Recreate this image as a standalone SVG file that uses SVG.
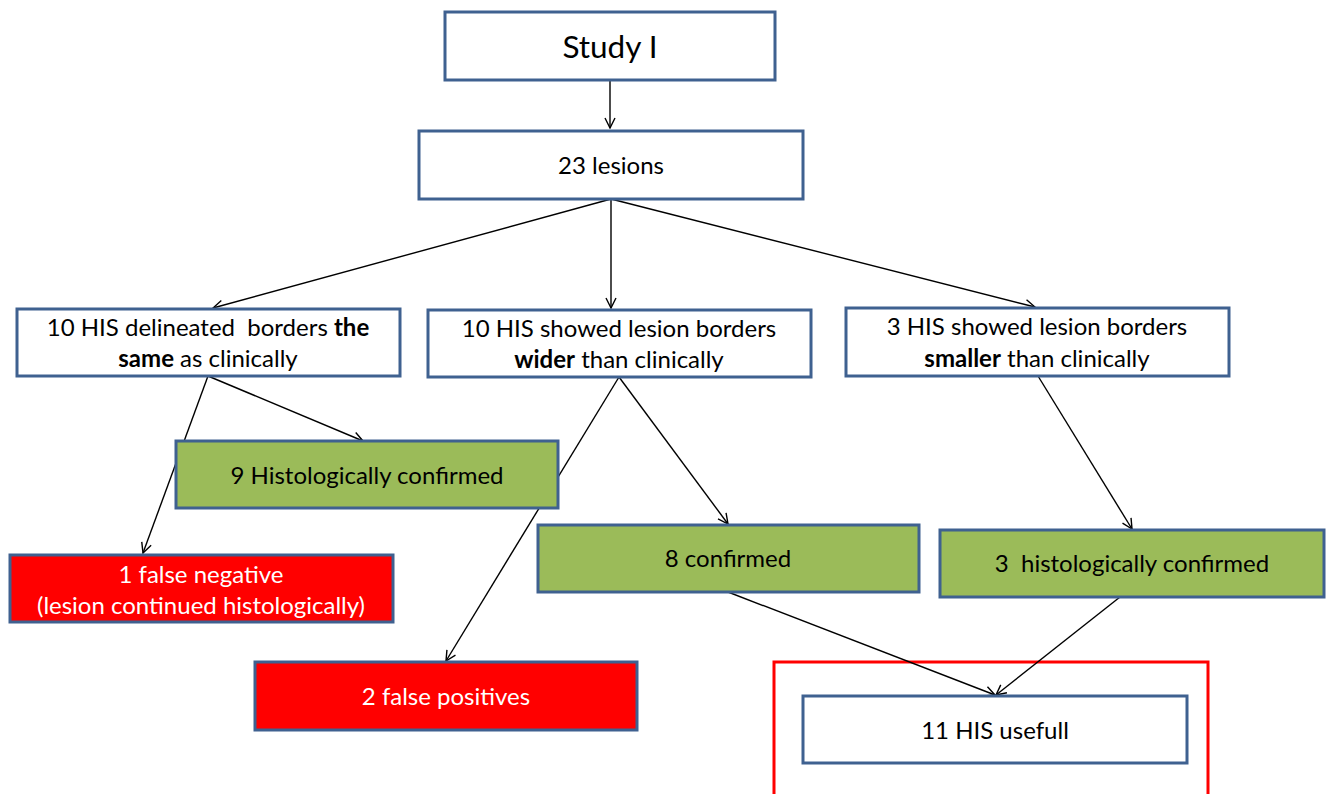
<svg xmlns="http://www.w3.org/2000/svg" width="1327" height="794" viewBox="0 0 1327 794">
<style>
.box{stroke:#3F6190;stroke-width:3}
.w{fill:#fff}
.g{fill:#9BBB59}
.r{fill:#FF0000}
text{font-family:"Lato","Open Sans",sans-serif;font-size:24px;text-anchor:middle;fill:#000}
.wt{fill:#fff}
.c line{stroke:#000;stroke-width:1.4;marker-end:url(#ah)}
</style>
<defs>
<marker id="ah" viewBox="0 0 12 12" refX="11" refY="6" markerWidth="12" markerHeight="12" markerUnits="userSpaceOnUse" orient="auto">
<path d="M1,1 L11,6 L1,11" fill="none" stroke="#000" stroke-width="1.4"/>
</marker>
</defs>
<rect x="774" y="662" width="434" height="140" fill="none" stroke="#FF0000" stroke-width="3"/>
<g class="c">
<line x1="610" y1="80" x2="610" y2="128"/>
<line x1="611" y1="199" x2="213" y2="308"/>
<line x1="611" y1="199" x2="611" y2="308"/>
<line x1="611" y1="199" x2="1035" y2="307"/>
<line x1="208" y1="376" x2="363" y2="441"/>
<line x1="208" y1="376" x2="143" y2="553"/>
<line x1="619" y1="377" x2="728" y2="524"/>
<line x1="619" y1="377" x2="446" y2="661"/>
<line x1="1038" y1="376" x2="1132" y2="529"/>
<line x1="728" y1="592" x2="995" y2="695"/>
<line x1="1120" y1="597" x2="996" y2="695"/>
</g>
<g id="study"><rect class="box w" x="445" y="12" width="330" height="68"/><text x="610" y="58" style="font-size:31.5px">Study I</text></g>
<g id="lesions"><rect class="box w" x="419" y="131" width="384" height="68"/><text x="611" y="174">23 lesions</text></g>
<g id="same"><rect class="box w" x="17" y="309" width="383" height="67"/><text x="208" y="336" xml:space="preserve">10 HIS delineated  borders <tspan font-weight="bold">the</tspan></text><text x="208" y="367"><tspan font-weight="bold">same</tspan> as clinically</text></g>
<g id="wider"><rect class="box w" x="428" y="310" width="383" height="67"/><text x="619" y="337">10 HIS showed lesion borders</text><text x="619" y="368"><tspan font-weight="bold">wider</tspan> than clinically</text></g>
<g id="smaller"><rect class="box w" x="846" y="308" width="383" height="68"/><text x="1037" y="335">3 HIS showed lesion borders</text><text x="1037" y="367"><tspan font-weight="bold">smaller</tspan> than clinically</text></g>
<g id="hist9"><rect class="box g" x="176" y="441" width="382" height="67"/><text x="367" y="484">9 Histologically confirmed</text></g>
<g id="falseneg"><rect class="box r" x="10" y="555" width="383" height="67"/><text class="wt" x="201" y="583">1 false negative</text><text class="wt" x="201" y="614">(lesion continued histologically)</text></g>
<g id="conf8"><rect class="box g" x="538" y="525" width="381" height="67"/><text x="728" y="567">8 confirmed</text></g>
<g id="hist3"><rect class="box g" x="940" y="530" width="384" height="67"/><text x="1132" y="572" xml:space="preserve">3  histologically confirmed</text></g>
<g id="falsepos"><rect class="box r" x="255" y="662" width="382" height="68"/><text class="wt" x="446" y="705">2 false positives</text></g>
<g id="useful"><rect class="box w" x="803" y="696" width="384" height="67"/><text x="995" y="739">11 HIS usefull</text></g>
</svg>
